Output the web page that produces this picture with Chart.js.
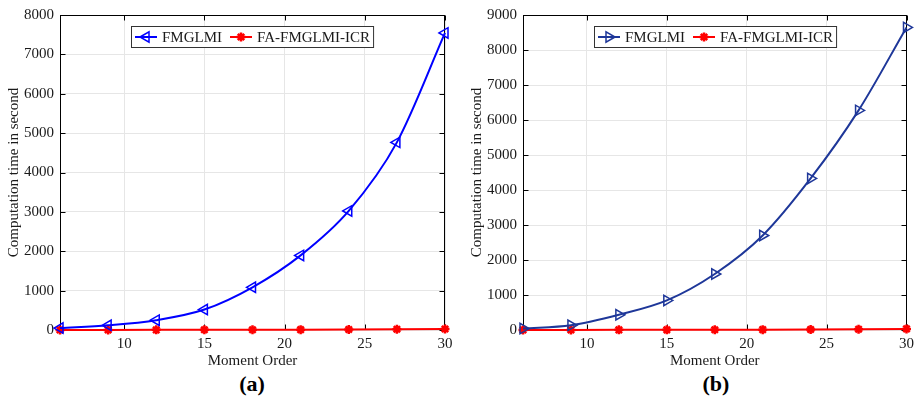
<!DOCTYPE html>
<html>
<head>
<meta charset="utf-8">
<script src="https://cdn.jsdelivr.net/npm/chart.js@4.4.1/dist/chart.umd.min.js"></script>
<style>
  body { margin: 0; background: #fff; width: 919px; height: 406px; position: relative; overflow: hidden;
         font-family: "Liberation Serif", "Times New Roman", serif; }
  canvas { position: absolute; top: 0; }
  #chartA { left: 0; }
  #chartB { left: 460px; }
  .cap { position: absolute; top: 371px; width: 60px; text-align: center; font-weight: bold; font-size: 22px; color: #000; }
</style>
</head>
<body>
<canvas id="chartA" width="460" height="370"></canvas>
<canvas id="chartB" width="459" height="370"></canvas>
<div class="cap" style="left:222px">(a)</div>
<div class="cap" style="left:686px">(b)</div>
<script>
// moment orders (x axis)
var moments = [6, 9, 12, 15, 18, 21, 24, 27, 30];
var xTicks = [10, 15, 20, 25, 30];
var seriesNames = ['FMGLMI', 'FA-FMGLMI-ICR'];

// panel (a) - computation time in second
var fmglmiA = [50, 120, 250, 520, 1085, 1895, 3025, 4765, 7545];
var faA = [2, 3, 4, 5, 6, 8, 12, 18, 26];

// panel (b)
var fmglmiB = [40, 133, 435, 845, 1600, 2700, 4330, 6275, 8645];
var faB = [2, 3, 4, 5, 7, 10, 15, 22, 32];

var FONT = '"Liberation Serif", "Times New Roman", serif';
var TXT = '#1a1a1a';
var FS = 15;

function pts(vals) {
  return moments.map(function (m, i) { return { x: m, y: vals[i] }; });
}

// black box round the plot, with ticks pointing inward on all sides
var boxPlugin = {
  id: 'box',
  beforeDatasetsDraw: function (chart) {
    var a = chart.chartArea, ctx = chart.ctx;
    var sx = chart.scales.x, sy = chart.scales.y;
    var L = Math.round(a.left) + 0.5, R = Math.round(a.right) - 0.5;
    var T = Math.round(a.top) + 0.5, B = Math.round(a.bottom) - 0.5;
    ctx.save();
    ctx.strokeStyle = '#000';
    ctx.lineWidth = 1;
    ctx.strokeRect(L, T, R - L, B - T);
    ctx.beginPath();
    sy.ticks.forEach(function (t) {
      var p = Math.round(sy.getPixelForValue(t.value)) + 0.5;
      ctx.moveTo(L, p); ctx.lineTo(L + 5, p);
      ctx.moveTo(R, p); ctx.lineTo(R - 5, p);
    });
    sx.ticks.forEach(function (t) {
      var p = Math.round(sx.getPixelForValue(t.value)) + 0.5;
      ctx.moveTo(p, B); ctx.lineTo(p, B - 5);
      ctx.moveTo(p, T); ctx.lineTo(p, T + 5);
    });
    ctx.stroke();
    ctx.restore();
  }
};

// legend drawn inside the plot, at the top centre
var legendPlugin = {
  id: 'inlegend',
  afterDraw: function (chart) {
    var ctx = chart.ctx, a = chart.chartArea;
    var items = chart.data.datasets;
    ctx.save();
    ctx.font = FS + 'px ' + FONT;
    var widths = items.map(function (d) { return ctx.measureText(d.label).width; });
    var total = 3;
    items.forEach(function (d, i) { total += 27 + widths[i] + (i < items.length - 1 ? 8 : 4); });
    var h = 21;
    var left = Math.round((a.left + a.right) / 2 - total / 2);
    var top = Math.round(a.top) + 11;
    ctx.fillStyle = '#fff';
    ctx.fillRect(left, top, total, h);
    ctx.strokeStyle = '#333';
    ctx.lineWidth = 1;
    ctx.strokeRect(left + 0.5, top + 0.5, total, h);
    var x = left + 4, cy = top + h / 2 + 0.5;
    items.forEach(function (d, i) {
      ctx.strokeStyle = d.borderColor;
      ctx.lineWidth = d.borderWidth;
      ctx.beginPath();
      ctx.moveTo(x, cy); ctx.lineTo(x + 22, cy);
      ctx.stroke();
      ctx.lineWidth = d.pointBorderWidth;
      ctx.strokeStyle = d.pointBorderColor;
      ctx.fillStyle = d.pointBackgroundColor;
      Chart.helpers.drawPoint(ctx, {
        pointStyle: d.pointStyle, rotation: d.pointRotation || 0,
        radius: d.pointRadius, borderWidth: d.pointBorderWidth
      }, x + 11, cy);
      ctx.fillStyle = TXT;
      ctx.textBaseline = 'middle';
      ctx.textAlign = 'left';
      ctx.fillText(d.label, x + 27, cy + 1);
      x += 27 + widths[i] + 8;
    });
    ctx.restore();
  }
};

function makeChart(id, blue, red, blueColor, rot, yMax, yWidth, titlePad, padTop, padRight) {
  return new Chart(document.getElementById(id), {
    type: 'line',
    data: {
      datasets: [{
        label: seriesNames[0],
        data: pts(blue),
        borderColor: blueColor,
        backgroundColor: 'rgba(0,0,0,0)',
        borderWidth: 2,
        pointStyle: 'triangle',
        pointRotation: rot,
        pointRadius: 6,
        pointBorderWidth: 1.5,
        pointBorderColor: blueColor,
        pointBackgroundColor: 'rgba(0,0,0,0)',
        cubicInterpolationMode: 'monotone',
        clip: false
      }, {
        label: seriesNames[1],
        data: pts(red),
        borderColor: '#ff0000',
        backgroundColor: 'rgba(0,0,0,0)',
        borderWidth: 2,
        pointStyle: 'star',
        pointRadius: 4.5,
        pointBorderWidth: 2.5,
        pointBorderColor: '#ff0000',
        pointBackgroundColor: '#ff0000',
        clip: false
      }]
    },
    options: {
      responsive: false,
      animation: false,
      devicePixelRatio: 1,
      layout: { padding: { top: padTop, right: padRight, left: 0, bottom: 0 } },
      plugins: { legend: { display: false }, tooltip: { enabled: false } },
      scales: {
        x: {
          type: 'linear', min: 6, max: 30,
          afterBuildTicks: function (s) { s.ticks = xTicks.map(function (v) { return { value: v }; }); },
          afterFit: function (s) { s.height = 40; },
          grid: { color: '#e6e6e6', drawTicks: false },
          border: { display: false },
          ticks: { padding: 5, color: TXT, maxRotation: 0, font: { family: FONT, size: FS },
                   callback: function (v) { return String(v); } },
          title: { display: true, text: 'Moment Order', color: TXT, padding: { top: 0, bottom: 0 },
                   font: { family: FONT, size: FS } }
        },
        y: {
          min: 0, max: yMax,
          afterFit: function (s) { s.width = yWidth; },
          grid: { color: '#e6e6e6', drawTicks: false },
          border: { display: false },
          ticks: { stepSize: 1000, padding: 6, color: TXT, font: { family: FONT, size: FS },
                   callback: function (v) { return String(v); } },
          title: { display: true, text: 'Computation time in second', color: TXT,
                   padding: { top: titlePad, bottom: 0 }, font: { family: FONT, size: FS } }
        }
      }
    },
    plugins: [boxPlugin, legendPlugin]
  });
}

makeChart('chartA', fmglmiA, faA, '#0000ff', 270, 8000, 60, 5, 11, 15);
makeChart('chartB', fmglmiB, faB, '#1e3799', 90, 9000, 63, 8, 12, 11);
</script>
</body>
</html>
